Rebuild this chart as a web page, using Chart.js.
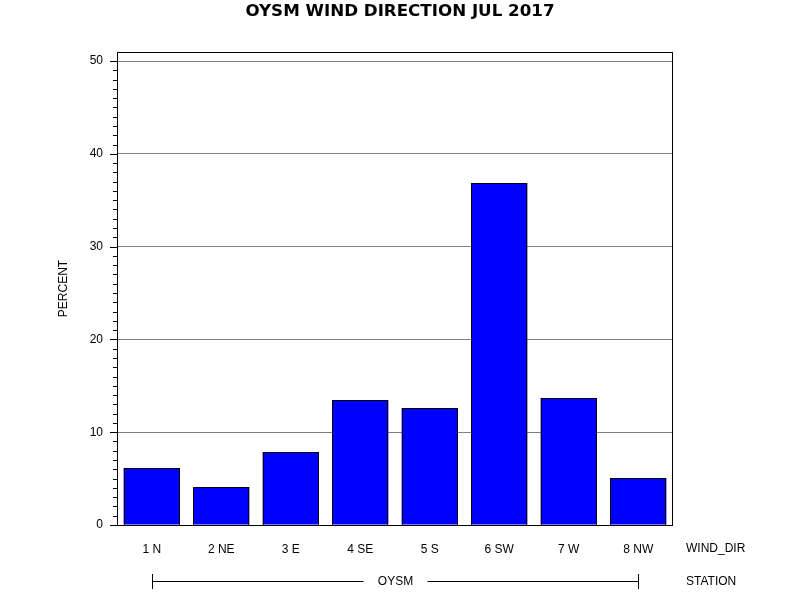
<!DOCTYPE html>
<html>
<head>
<meta charset="utf-8">
<script src="https://cdn.jsdelivr.net/npm/chart.js@4.4.0/dist/chart.umd.min.js"></script>
<style>
html,body{margin:0;padding:0;background:#fff;}
canvas{display:block;}
</style>
</head>
<body>
<canvas id="c" width="800" height="600"></canvas>
<script>
const categories = ["1 N", "2 NE", "3 E", "4 SE", "5 S", "6 SW", "7 W", "8 NW"];
const percentValues = [6.14, 4.09, 7.87, 13.47, 12.6, 36.85, 13.69, 5.06];
const yTickValues = [0, 10, 20, 30, 40, 50];
const titleText = "OYSM WIND DIRECTION JUL 2017";
const yTitle = "PERCENT";
const xGroupTitle = "WIND_DIR";
const stationTitle = "STATION";
const stationName = "OYSM";

const FONT = "'Liberation Sans', Arial, sans-serif";
const TITLE_FONT = "'DejaVu Sans', Verdana, sans-serif";

const decorPlugin = {
  id: 'decor',
  afterDatasetsDraw(chart) {
    const ctx = chart.ctx;
    ctx.save();
    ctx.strokeStyle = '#000';
    ctx.lineWidth = 1;
    chart.getDatasetMeta(0).data.forEach(el => {
      const p = el.getProps(['x', 'y', 'base', 'width'], true);
      const l = Math.round(p.x - p.width / 2) + 0.5;
      const r = Math.round(p.x + p.width / 2) - 0.5;
      const t = Math.round(p.y) + 0.5;
      const b = Math.round(p.base) + 0.5;
      ctx.strokeRect(l, t, r - l, b - t);
    });
    ctx.restore();
  },
  afterDraw(chart) {
    const ctx = chart.ctx;
    const a = chart.chartArea;
    const y = chart.scales.y;
    const x = chart.scales.x;
    ctx.save();
    // frame
    ctx.strokeStyle = '#000';
    ctx.lineWidth = 1;
    ctx.strokeRect(Math.round(a.left) + 0.5, Math.round(a.top) + 0.5, Math.round(a.right - a.left) - 1, Math.round(a.bottom - a.top));
    // ticks
    ctx.beginPath();
    for (let v = 0; v <= 50; v++) {
      const py = Math.round(y.getPixelForValue(v)) + 0.5;
      const len = (v % 10 === 0) ? 7 : 4;
      ctx.moveTo(a.left - len, py);
      ctx.lineTo(a.left, py);
    }
    ctx.stroke();
    // title, fitted to reference width
    ctx.fillStyle = '#000';
    let fs = 15;
    ctx.font = "bold " + fs + "px " + TITLE_FONT;
    const w = ctx.measureText(titleText).width;
    fs = Math.max(12, Math.min(20, fs * 309 / w));
    ctx.font = "bold " + fs.toFixed(1) + "px " + TITLE_FONT;
    ctx.textAlign = 'center';
    ctx.textBaseline = 'middle';
    ctx.fillText(titleText, 400, 12);
    // y title
    ctx.font = "12px " + FONT;
    ctx.save();
    ctx.translate(64, (a.top + a.bottom) / 2);
    ctx.rotate(-Math.PI / 2);
    ctx.fillText(yTitle, 0, 0);
    ctx.restore();
    // right-side labels
    ctx.textAlign = 'left';
    ctx.fillText(xGroupTitle, 686, 549);
    ctx.fillText(stationTitle, 686, 582);
    // station bracket
    const x0 = Math.round(x.getPixelForValue(0)) + 0.5;
    const x1 = Math.round(x.getPixelForValue(categories.length - 1)) + 0.5;
    const ly = 581.5;
    const mid = (x0 + x1) / 2;
    ctx.textAlign = 'center';
    ctx.fillText(stationName, mid, 582);
    ctx.beginPath();
    ctx.moveTo(x0, ly); ctx.lineTo(mid - 32, ly);
    ctx.moveTo(mid + 32, ly); ctx.lineTo(x1, ly);
    ctx.moveTo(x0, 574); ctx.lineTo(x0, 589);
    ctx.moveTo(x1, 574); ctx.lineTo(x1, 589);
    ctx.stroke();
    ctx.restore();
  }
};

new Chart(document.getElementById('c'), {
  type: 'bar',
  data: {
    labels: categories,
    datasets: [{
      data: percentValues,
      backgroundColor: '#0000FF',
      borderWidth: 0,
      barPercentage: 0.81,
      categoryPercentage: 1.0
    }]
  },
  options: {
    responsive: false,
    animation: false,
    devicePixelRatio: 1,
    layout: { padding: { left: 0, right: 127, top: 52, bottom: 0 } },
    plugins: { legend: { display: false }, title: { display: false }, tooltip: { enabled: false } },
    scales: {
      x: {
        grid: { display: false, drawTicks: false },
        border: { display: false },
        ticks: { color: '#000', font: { family: FONT, size: 12 }, padding: 17, maxRotation: 0 },
        afterFit(s) { s.height = 75; }
      },
      y: {
        min: 0,
        max: 50.97,
        afterBuildTicks(s) { s.ticks = yTickValues.map(v => ({ value: v })); },
        grid: {
          drawTicks: false,
          color: ctx => (ctx.tick && ctx.tick.value === 0) ? 'rgba(0,0,0,0)' : '#808080',
          lineWidth: 1
        },
        border: { display: false },
        ticks: { color: '#000', font: { family: FONT, size: 12 }, padding: 14 },
        afterFit(s) { s.width = 117; }
      }
    }
  },
  plugins: [decorPlugin]
});
</script>
</body>
</html>
